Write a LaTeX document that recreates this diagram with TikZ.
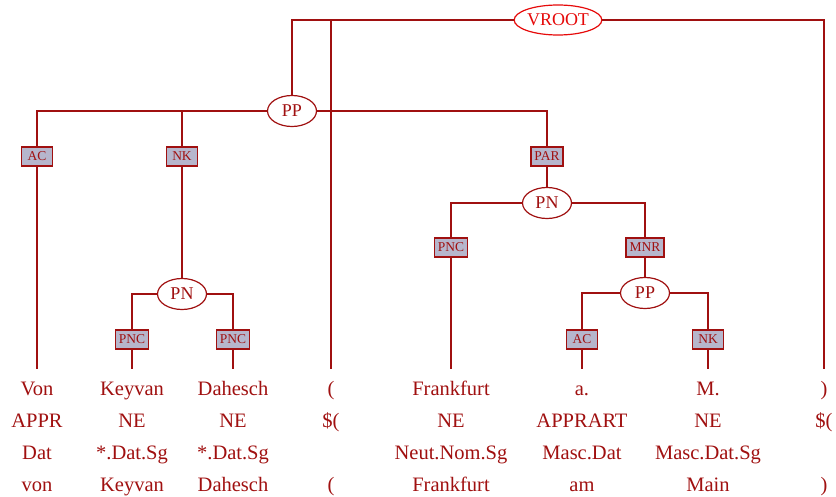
\documentclass[tikz,border=0pt]{standalone}
\usepackage{fontspec}
\setmainfont{Liberation Serif}
\usetikzlibrary{positioning, shapes.geometric}

\definecolor{treered}{RGB}{160,16,16}
\definecolor{rootred}{RGB}{230,10,10}
\definecolor{boxfill}{RGB}{182,182,204}

\begin{document}
\begin{tikzpicture}[
        x=1pt, y=-1pt,
        cat_node/.style={draw=treered, ellipse, line width=1.2pt, fill=white, inner sep=0pt, minimum width=49pt, minimum height=31pt, text=treered, font=\fontsize{18}{20}\selectfont},
        root_node/.style={cat_node, draw=rootred, text=rootred, minimum width=84pt, minimum height=30pt},
        label_box/.style={draw=treered, rectangle, line width=1.3pt, fill=boxfill, inner xsep=3.5pt, inner ysep=0pt, minimum width=31pt, minimum height=19pt, text=treered, font=\fontsize{13.5}{15}\selectfont},
        word_node/.style={anchor=base, align=center, inner sep=0pt, text=treered, font=\fontsize{20.5}{32}\selectfont},
        edge/.style={draw=treered, line width=1.3pt}
    ]
        \useasboundingbox (0,0) rectangle (836,497);

        % Nodes
        \node (vroot) [root_node] at (558,20) {VROOT};
        \node (pp) [cat_node] at (292,111) {PP};
        \node (pn_left) [cat_node] at (182,294) {PN};
        \node (pn_right) [cat_node] at (547,203) {PN};
        \node (pp_low) [cat_node] at (645,293) {PP};

        \node (ac_von) [label_box] at (37,156.5) {AC};
        \node (nk_pn) [label_box] at (182,156.5) {NK};
        \node (par_pn) [label_box] at (547,156.5) {PAR};
        \node (pnc_keyvan) [label_box] at (132,339.5) {PNC};
        \node (pnc_dahesch) [label_box] at (233,339.5) {PNC};
        \node (pnc_frankfurt) [label_box] at (451,247.5) {PNC};
        \node (mnr_pp) [label_box] at (645,247.5) {MNR};
        \node (ac_am) [label_box] at (582,339.5) {AC};
        \node (nk_main) [label_box] at (708,339.5) {NK};

        % Words (base = last line)
        \node (w_von) [word_node] at (37,491) {Von\\APPR\\Dat\\von};
        \node (w_keyvan) [word_node] at (132,491) {Keyvan\\NE\\*.Dat.Sg\\Keyvan};
        \node (w_dahesch) [word_node] at (233,491) {Dahesch\\NE\\*.Dat.Sg\\Dahesch};
        \node (w_open) [word_node] at (331,491) {(\\\$(\\\mbox{}\\(};
        \node (w_frankfurt) [word_node] at (451,491) {Frankfurt\\NE\\Neut.Nom.Sg\\Frankfurt};
        \node (w_am) [word_node] at (582,491) {a.\\APPRART\\Masc.Dat\\am};
        \node (w_main) [word_node] at (708,491) {M.\\NE\\Masc.Dat.Sg\\Main};
        \node (w_close) [word_node] at (824,491) {)\\\$(\\\mbox{}\\)};

        \coordinate (top_von) at (37,369);
        \coordinate (top_keyvan) at (132,369);
        \coordinate (top_dahesch) at (233,369);
        \coordinate (top_open) at (331,369);
        \coordinate (top_frankfurt) at (451,369);
        \coordinate (top_am) at (582,369);
        \coordinate (top_main) at (708,369);
        \coordinate (top_close) at (824,369);

        % Edges
        \draw [edge] (vroot) -| (pp);
        \draw [edge] (vroot) -| (top_open);
        \draw [edge] (vroot) -| (top_close);
        \draw [edge] (pp) -| (ac_von);
        \draw [edge] (ac_von) -- (top_von);
        \draw [edge] (pp) -| (nk_pn);
        \draw [edge] (nk_pn) -- (pn_left);
        \draw [edge] (pn_left) -| (pnc_keyvan);
        \draw [edge] (pnc_keyvan) -- (top_keyvan);
        \draw [edge] (pn_left) -| (pnc_dahesch);
        \draw [edge] (pnc_dahesch) -- (top_dahesch);
        \draw [edge] (pp) -| (par_pn);
        \draw [edge] (par_pn) -- (pn_right);
        \draw [edge] (pn_right) -| (pnc_frankfurt);
        \draw [edge] (pnc_frankfurt) -- (top_frankfurt);
        \draw [edge] (pn_right) -| (mnr_pp);
        \draw [edge] (mnr_pp) -- (pp_low);
        \draw [edge] (pp_low) -| (ac_am);
        \draw [edge] (ac_am) -- (top_am);
        \draw [edge] (pp_low) -| (nk_main);
        \draw [edge] (nk_main) -- (top_main);
    \end{tikzpicture}
\end{document}
